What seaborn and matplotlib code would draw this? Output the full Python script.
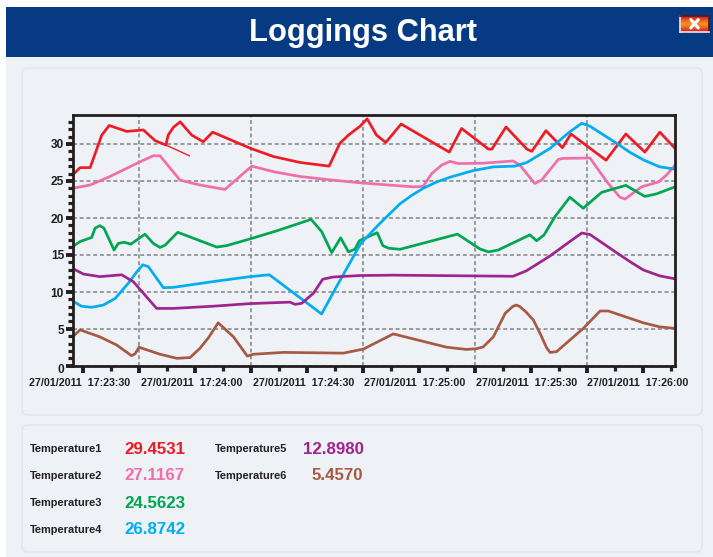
import numpy as np
import pandas as pd
import matplotlib
matplotlib.use("Agg")
import matplotlib.pyplot as plt
from matplotlib.patches import FancyBboxPatch, Rectangle
from matplotlib.ticker import MultipleLocator
from matplotlib.transforms import ScaledTranslation
import seaborn as sns

# time axis is seconds after 17:23:30
t1_t = [-2.7, -0.7, 2.0, 5.1, 7.1, 11.8, 16.25, 19.4, 22.3, 22.9, 24.3, 26.1, 29.2, 32.3, 34.8, 45.0, 51.1, 58.2, 66.0, 68.9, 71.2, 74.3,
        76.2, 78.7, 81.2, 85.3, 98.2, 101.5, 108.7, 109.6, 113.4, 119.0, 120.3, 124.1, 128.5, 130.8, 140.2, 145.5, 150.6, 154.6, 158.7]
t1_v = [25.8, 26.8, 26.8, 31.2, 32.5, 31.7, 31.9, 30.45, 29.85, 31.2, 32.25, 33.0, 31.2, 30.3, 31.6, 29.4, 28.3, 27.5, 27.0, 30.1, 31.2, 32.4,
        33.4, 31.2, 30.2, 32.7, 28.9, 32.1, 29.3, 29.3, 32.3, 29.3, 29.0, 31.8, 29.5, 31.35, 27.8, 31.35, 28.9, 31.6, 29.4]
# the thin stray stroke on the red line
spur_t = [22.3, 28.6]
spur_v = [29.85, 28.4]

t2_t = [-2.7, 2.0, 7.3, 15.4, 18.9, 20.7, 26.1, 31.4, 38.1, 45.3, 51.1, 58.2, 67.1, 74.3, 80.5, 88.6, 91.2, 93.5, 96.2, 98.4, 100.6, 107.3,
        115.3, 117.1, 121.1, 122.9, 127.4, 128.7, 135.9, 140.4, 143.9, 145.3, 149.7, 154.2, 156.4, 158.7]
t2_v = [24.0, 24.45, 25.6, 27.6, 28.4, 28.4, 25.1, 24.45, 23.85, 27.0, 26.25, 25.6, 25.1, 24.75, 24.5, 24.2, 24.25, 26.0, 27.15, 27.65, 27.35, 27.4,
        27.7, 27.15, 24.65, 25.1, 27.9, 28.05, 28.1, 24.9, 22.8, 22.55, 24.2, 24.85, 25.8, 27.15]

t3_t = [-2.7, -0.7, 2.4, 3.3, 4.6, 5.7, 8.4, 9.55, 11.1, 12.9, 16.7, 18.9, 20.7, 22.05, 25.45, 35.9, 38.6, 44.8, 52.0, 61.2, 64.0, 66.7, 69.1,
        71.2, 72.9, 74.1, 78.9, 80.4, 81.9, 85.0, 100.4, 106.4, 108.7, 111.3, 119.8, 121.6, 123.6, 126.5, 130.5, 134.1, 139.0, 145.5, 150.6, 153.7, 158.7]
t3_v = [16.1, 16.8, 17.35, 18.6, 18.95, 18.6, 15.65, 16.55, 16.7, 16.45, 17.8, 16.55, 16.0, 16.3, 18.05, 16.05, 16.25, 17.15, 18.25, 19.8, 18.15, 15.3, 17.3,
        15.4, 15.75, 16.9, 18.0, 16.25, 15.9, 15.75, 17.8, 15.8, 15.4, 15.65, 17.7, 16.9, 17.7, 20.15, 22.8, 21.3, 23.45, 24.4, 22.9, 23.25, 24.2]

t4_t = [-2.7, -0.3, 2.4, 5.5, 8.7, 12.2, 14.5, 16.1, 17.6, 21.6, 24.3, 35.9, 44.8, 50.0, 64.0, 68.0, 74.5, 79.6, 85.0, 88.0, 91.2, 94.8, 98.4, 104.6, 110.0, 115.8,
        119.0, 125.2, 130.5, 133.7, 135.9, 143.0, 146.5, 150.2, 154.6, 158.7]
t4_v = [8.75, 8.05, 7.9, 8.2, 9.1, 11.15, 12.7, 13.65, 13.4, 10.55, 10.6, 11.45, 12.05, 12.3, 7.0, 10.7, 16.55, 19.25, 21.9, 23.0, 24.0, 24.85, 25.5, 26.4, 26.9, 27.0,
        27.5, 29.4, 31.65, 32.8, 32.4, 30.1, 28.9, 27.85, 26.9, 26.6]

t5_t = [-2.7, 0.2, 4.6, 8.2, 10.45, 13.6, 19.8, 24.3, 35.0, 44.8, 55.5, 56.9, 58.7, 61.8, 64.3, 67.1, 74.3, 83.2, 115.3, 118.9, 125.2, 130.5, 133.7,
        135.9, 143.0, 147.0, 150.2, 154.6, 158.7]
t5_v = [13.15, 12.4, 12.05, 12.2, 12.3, 11.35, 7.75, 7.75, 8.05, 8.4, 8.6, 8.3, 8.45, 9.8, 11.7, 12.0, 12.2, 12.25, 12.1, 12.85, 14.85, 16.8, 17.95,
        17.75, 15.3, 13.95, 12.95, 12.15, 11.75]

t6_t = [-2.7, -0.7, 4.6, 9.1, 13.1, 14.0, 15.1, 20.7, 25.2, 28.75, 31.4, 33.7, 36.3, 40.4, 44.1, 45.7, 53.75, 69.8, 75.2, 83.2, 97.5, 102.8, 105.5, 107.3, 110.0,
        113.2, 115.3, 116.2, 117.1, 118.7, 120.7, 122.6, 124.3, 125.2, 126.95, 134.1, 138.6, 140.8, 150.2, 154.6, 158.7]
t6_v = [3.9, 4.85, 3.9, 2.8, 1.35, 1.6, 2.5, 1.55, 1.0, 1.1, 2.35, 3.8, 5.8, 3.9, 1.3, 1.55, 1.8, 1.7, 2.25, 4.3, 2.5, 2.2, 2.3, 2.55, 3.9,
        7.1, 8.05, 8.2, 8.0, 7.3, 6.2, 4.3, 2.4, 1.8, 1.9, 5.05, 7.4, 7.4, 5.8, 5.25, 5.05]

names = ["Temperature1", "Temperature2", "Temperature3", "Temperature4", "Temperature5", "Temperature6"]
colors = ["#ed1c24", "#f06eaa", "#00a651", "#00aeef", "#a0248e", "#a65a43"]
readouts = ["29.4531", "27.1167", "24.5623", "26.8742", "12.8980", "5.4570"]
tick_pos = [0, 30, 60, 90, 120, 150]
tick_labels = ["27/01/2011  17:23:30", "27/01/2011  17:24:00", "27/01/2011  17:24:30",
               "27/01/2011  17:25:00", "27/01/2011  17:25:30", "27/01/2011  17:26:00"]
vgrid_pos = [15, 45, 75, 105, 135]

series_t = [t1_t, t2_t, t3_t, t4_t, t5_t, t6_t]
series_v = [t1_v, t2_v, t3_v, t4_v, t5_v, t6_v]
df = pd.concat([pd.DataFrame({"time": t, "value": v, "sensor": n})
                for t, v, n in zip(series_t, series_v, names)], ignore_index=True)

W, H = 713, 557
INK = "#231f20"
sns.set_theme(style="white")
plt.rcParams["font.family"] = ["Liberation Sans", "DejaVu Sans"]
plt.rcParams["font.weight"] = "bold"

fig = plt.figure(figsize=(W / 100, H / 100), dpi=100, facecolor="white")

# page furniture, laid out in pixels
bg = fig.add_axes([0, 0, 1, 1], zorder=0)
bg.set_xlim(0, W)
bg.set_ylim(H, 0)
bg.axis("off")
bg.add_patch(Rectangle((6, 7), W - 6, H - 7, fc="#eef1f6", ec="none"))
bg.add_patch(Rectangle((6, 7), W - 6, 50, fc="#063b84", ec="none"))
for y0, y1 in [(67, 416), (424, 553)]:
    bg.add_patch(FancyBboxPatch((22, y0 + 1), 680, y1 - y0 - 2, boxstyle="round,pad=0,rounding_size=6",
                                fc="#eef1f6", ec="#e1e8ec", lw=1.2))
bg.text(363, 33.5, "Loggings Chart", color="white", fontsize=22.2, fontweight="bold", ha="center", va="center")

# close button
btn = fig.add_axes([680 / W, 1 - 32 / H, 29 / W, 16 / H], zorder=3)
grad = np.array([0, .3, .7, 1, 1, .7, .3, 0]).reshape(-1, 1)
btn.imshow(grad, aspect="auto", interpolation="bilinear",
           cmap=matplotlib.colors.LinearSegmentedColormap.from_list("b", ["#d8262b", "#f58a1f"]),
           extent=[0, 1, 0, 1])
btn.plot([.37, .63], [.25, .78], color="white", lw=2.2)
btn.plot([.37, .63], [.78, .25], color="white", lw=2.2)
btn.set_xlim(0, 1)
btn.set_ylim(0, 1)
btn.set_xticks([])
btn.set_yticks([])
for side in ["left", "bottom"]:
    btn.spines[side].set_color("#f3d9d9")
for side in ["top", "right"]:
    btn.spines[side].set_color("#5a1a1a")

# chart
ax = fig.add_axes([72.7 / W, 1 - 365.7 / H, (675 - 72.7) / W, (365.7 - 114.7) / H], zorder=2)
ax.set_facecolor("none")
ax.set_axisbelow(True)
ax.grid(axis="y", which="major", color="#808285", ls=(0, (2.6, 1.8)), lw=1.1)
for x in vgrid_pos:
    ax.axvline(x, color="#808285", ls=(0, (2.6, 1.8)), lw=1.1, zorder=1)

sns.lineplot(data=df, x="time", y="value", hue="sensor", hue_order=names, palette=colors,
             estimator=None, sort=False, legend=False, lw=1.95, ax=ax)
sns.lineplot(x=spur_t, y=spur_v, color=colors[0], estimator=None, sort=False, lw=1.0, ax=ax)

ax.set_xlim(-2.68, 158.67)
ax.set_ylim(0, 33.96)
ax.set_xlabel("")
ax.set_ylabel("")
ax.set_xticks(tick_pos + vgrid_pos)
ax.set_xticklabels(tick_labels + [""] * len(vgrid_pos))
ax.xaxis.set_minor_locator(MultipleLocator(7.5))
ax.yaxis.set_major_locator(MultipleLocator(5))
ax.yaxis.set_minor_locator(MultipleLocator(1))
ax.tick_params(axis="both", which="major", length=5, width=2.8, color=INK, labelcolor=INK, bottom=True, left=True)
ax.tick_params(axis="both", which="minor", length=3.6, width=2.3, color=INK, bottom=True, left=True)
ax.tick_params(axis="x", which="major", pad=4.0, labelsize=7.7)
ax.tick_params(axis="y", which="major", pad=1.2, labelsize=8.6)
for lab, dx in zip(ax.get_xticklabels(), [-3, -3, -3, -3.5, -4.5, -5]):
    lab.set_transform(lab.get_transform() + ScaledTranslation(dx / 100, 0, fig.dpi_scale_trans))
# the y labels sit a little off their ticks in the original
for lab, dy in zip(ax.get_yticklabels(), [-2.7, -3, -1, -0.7, 0, -0.7, 0.5]):
    lab.set_transform(lab.get_transform() + ScaledTranslation(0, dy / 100, fig.dpi_scale_trans))
for lab in ax.get_xticklabels() + ax.get_yticklabels():
    lab.set_fontweight("bold")
for s in ax.spines.values():
    s.set_visible(True)
    s.set_color(INK)
    s.set_linewidth(2.0)

# readouts under the chart
rows = [450, 477, 504, 531, 450, 477]
for i, (n, r, c, y) in enumerate(zip(names, readouts, colors, rows)):
    left = i < 4
    bg.text(30 if left else 215, y - 1, n, color=INK, fontsize=7.9, fontweight="bold", va="center", ha="left")
    bg.text(124.5 if left else 363.5, y - 1, r, color=c, fontsize=12.2, fontweight="bold", va="center",
            ha="left" if left else "right")

fig.savefig("out.png", dpi=100, facecolor="white")
